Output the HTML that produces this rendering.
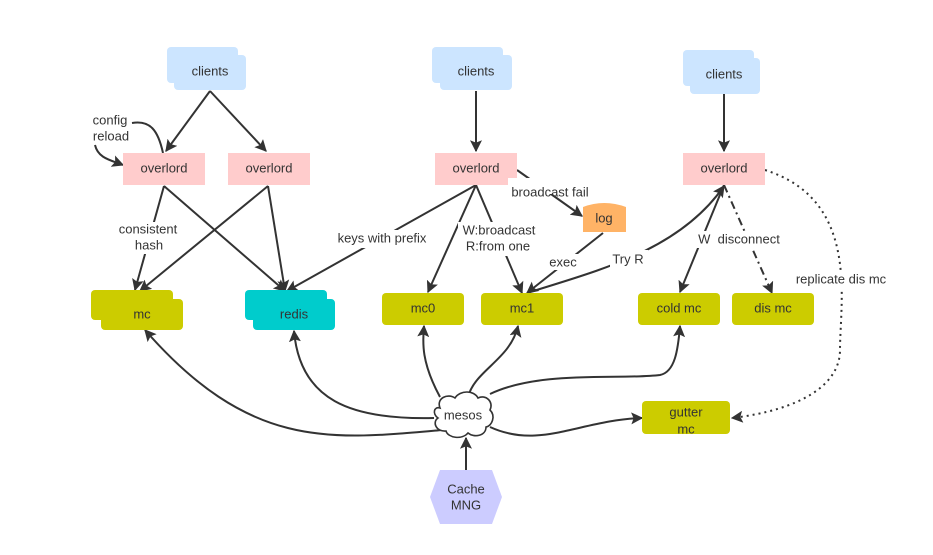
<!DOCTYPE html>
<html><head><meta charset="utf-8"><style>
html,body{margin:0;padding:0;background:#fff;}
svg{display:block;font-family:"Liberation Sans",sans-serif;}
text{font-size:13px;fill:#333;text-anchor:middle;dominant-baseline:middle;}
</style></head><body>
<svg width="933" height="555" viewBox="0 0 933 555">
<defs>
<marker id="a" viewBox="0 0 10 10" refX="9" refY="5" markerWidth="9" markerHeight="9" orient="auto" markerUnits="userSpaceOnUse">
<path d="M0,0 L10,5 L0,10 L2,5 z" fill="#333"/></marker>
<marker id="b" viewBox="0 0 10 10" refX="9" refY="5" markerWidth="12" markerHeight="12" orient="auto" markerUnits="userSpaceOnUse">
<path d="M0,0 L10,5 L0,10 L2,5 z" fill="#333"/></marker>
</defs>
<g fill="none" stroke="#333" stroke-width="2">
<!-- left clients -->
<line x1="210" y1="91" x2="166" y2="151" marker-end="url(#b)"/>
<line x1="210" y1="91" x2="266" y2="151" marker-end="url(#b)"/>
<path d="M163,153 C158,130 150,120 132,123" />
<path d="M95,145 C98,158 110,160 123,165" marker-end="url(#b)"/>
<line x1="164" y1="186" x2="135" y2="290" marker-end="url(#b)"/>
<line x1="164" y1="186" x2="285" y2="291" marker-end="url(#b)"/>
<line x1="268" y1="186" x2="140" y2="291" marker-end="url(#b)"/>
<line x1="268" y1="186" x2="285" y2="291" marker-end="url(#b)"/>
<!-- middle -->
<line x1="476" y1="91" x2="476" y2="151" marker-end="url(#b)"/>
<line x1="476" y1="185" x2="287" y2="291" marker-end="url(#b)"/>
<line x1="476" y1="185" x2="428" y2="292" marker-end="url(#b)"/>
<line x1="476" y1="185" x2="522" y2="293" marker-end="url(#b)"/>
<line x1="517" y1="170" x2="582" y2="216" marker-end="url(#b)"/>
<line x1="603" y1="233" x2="527" y2="293" marker-end="url(#b)"/>
<path d="M527,293 C600,270 680,250 724,186" marker-end="url(#b)"/>
<!-- right -->
<line x1="724" y1="94" x2="724" y2="151" marker-end="url(#b)"/>
<line x1="724" y1="185" x2="680" y2="292" marker-end="url(#b)"/>
<line x1="724" y1="185" x2="772" y2="293" stroke-dasharray="8,4,2,4" marker-end="url(#b)"/>
<path d="M765,170 C860,200 840,300 840,350 C840,385 800,410 732,418" stroke-dasharray="2,4" marker-end="url(#b)"/>
<!-- mesos edges -->
<path d="M440,397 C420,360 423,340 424,326" marker-end="url(#b)"/>
<path d="M468,397 C475,370 510,360 518,326" marker-end="url(#b)"/>
<path d="M434,418 C350,420 300,400 294,331" marker-end="url(#b)"/>
<path d="M442,430 C330,440 250,450 145,330" marker-end="url(#b)"/>
<path d="M490,394 C540,370 620,380 660,375 C675,372 678,350 680,326" marker-end="url(#b)"/>
<path d="M490,427 C540,450 580,420 642,418" marker-end="url(#b)"/>
<line x1="466" y1="470" x2="466" y2="438" marker-end="url(#b)"/>
</g>
<!-- clients -->
<g fill="#cce5ff">
<rect x="167" y="47" width="71" height="36" rx="4"/><rect x="174" y="55" width="72" height="35" rx="4"/>
<rect x="432" y="47" width="71" height="36" rx="4"/><rect x="440" y="55" width="72" height="35" rx="4"/>
<rect x="683" y="50" width="71" height="36" rx="4"/><rect x="690" y="58" width="70" height="36" rx="4"/>
</g>
<text x="210" y="72">clients</text><text x="476" y="72">clients</text><text x="724" y="75">clients</text>
<!-- overlords -->
<g fill="#ffcccc">
<rect x="123" y="153" width="82" height="32"/><rect x="228" y="153" width="82" height="32"/>
<rect x="435" y="153" width="82" height="32"/><rect x="683" y="153" width="82" height="32"/>
</g>
<text x="164" y="169">overlord</text><text x="269" y="169">overlord</text><text x="476" y="169">overlord</text><text x="724" y="169">overlord</text>
<!-- mc / redis -->
<rect x="91" y="290" width="82" height="30" rx="4" fill="#cccc00"/><rect x="101" y="299" width="82" height="31" rx="4" fill="#cccc00"/>
<text x="142" y="315">mc</text>
<rect x="245" y="290" width="82" height="30" rx="4" fill="#00cccc"/><rect x="253" y="299" width="82" height="31" rx="4" fill="#00cccc"/>
<text x="294" y="315">redis</text>
<g fill="#cccc00">
<rect x="382" y="293" width="82" height="32" rx="4"/><rect x="481" y="293" width="82" height="32" rx="4"/>
<rect x="638" y="293" width="82" height="32" rx="4"/><rect x="732" y="293" width="82" height="32" rx="4"/>
<rect x="642" y="401" width="88" height="33" rx="4"/>
</g>
<text x="423" y="309">mc0</text><text x="522" y="309">mc1</text><text x="679" y="309">cold mc</text><text x="773" y="309">dis mc</text>
<text x="686" y="413">gutter</text><text x="686" y="430">mc</text>
<!-- log -->
<path d="M583,207 Q604,199 626,207 L626,232 L583,232 Z" fill="#ffb366"/>
<text x="604" y="219">log</text>
<!-- mesos cloud -->
<path d="M440,408 C436,398 448,393 455,398 C460,390 474,390 478,398 C486,394 494,402 490,410 C496,416 492,426 486,427 C486,436 474,438 468,433 C462,440 448,438 446,431 C436,432 432,422 438,418 C432,414 434,406 440,408 Z" fill="#fff" stroke="#333" stroke-width="1.6"/>
<text x="463" y="416">mesos</text>
<!-- Cache MNG -->
<polygon points="440,470 492,470 502,497 492,524 440,524 430,497" fill="#ccccff"/>
<text x="466" y="490">Cache</text><text x="466" y="506">MNG</text>
<!-- labels -->
<g>
<rect x="508" y="178" width="100" height="16" fill="#fff"/>
<rect x="114" y="222" width="68" height="32" fill="#fff"/>
<rect x="330" y="230" width="103" height="18" fill="#fff"/>
<rect x="458" y="222" width="82" height="34" fill="#fff"/>
<rect x="546" y="254" width="36" height="16" fill="#fff"/>
<rect x="610" y="250" width="38" height="18" fill="#fff"/>
<rect x="694" y="231" width="92" height="17" fill="#fff"/>
<rect x="790" y="271" width="102" height="18" fill="#fff"/>
</g>
<text x="110" y="121">config</text><text x="111" y="137">reload</text>
<text x="148" y="230">consistent</text><text x="149" y="246">hash</text>
<text x="382" y="239">keys with prefix</text>
<text x="499" y="231">W:broadcast</text><text x="498" y="247">R:from one</text>
<text x="550" y="193">broadcast fail</text>
<text x="563" y="263">exec</text>
<text x="628" y="260">Try R</text>
<text x="739" y="240">W&#160;&#160;disconnect</text>
<text x="841" y="280">replicate dis mc</text>
</svg>
</body></html>
